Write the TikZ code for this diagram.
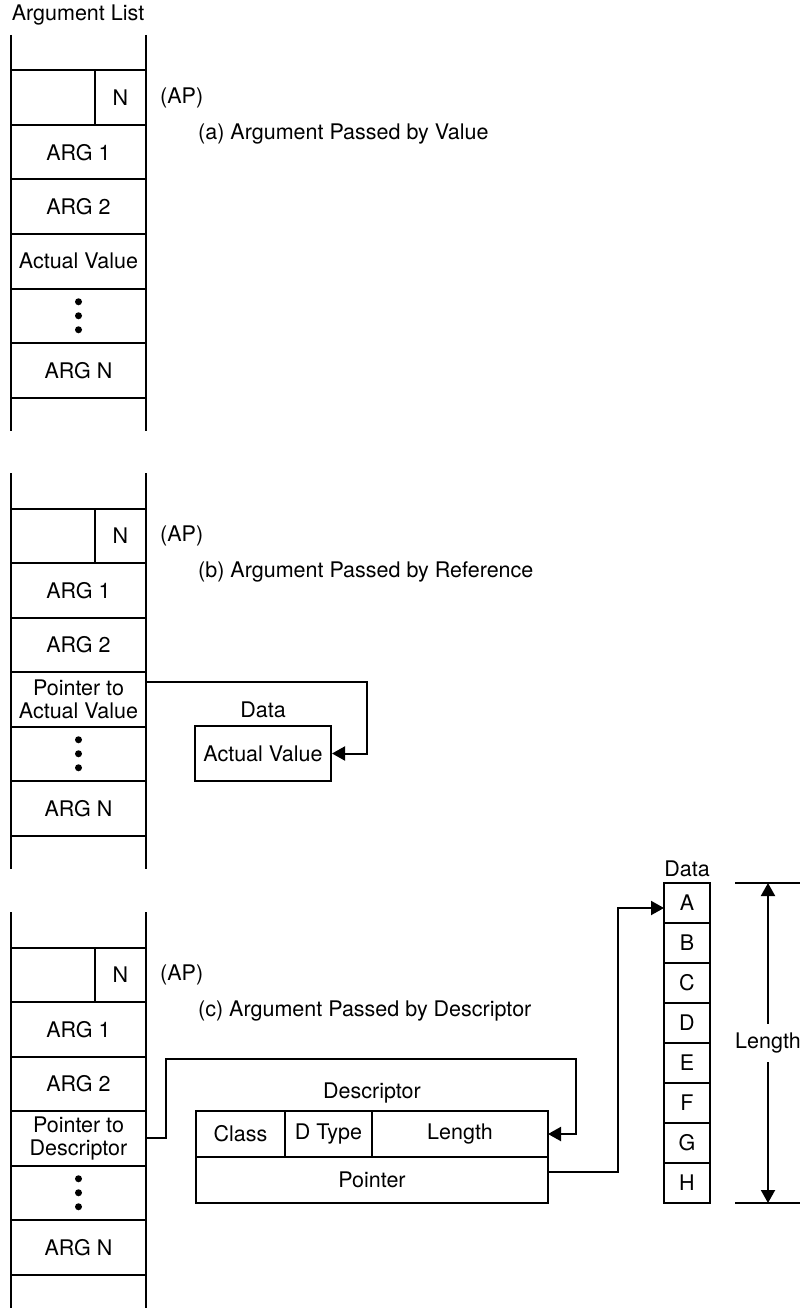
\documentclass[tikz,border=0pt]{standalone}
\usepackage{fontspec}
\setmainfont{TeX Gyre Heros}
\usetikzlibrary{arrows.meta,positioning}

\begin{document}
\begin{tikzpicture}[x=1pt,y=-1pt,
  every node/.style={font=\fontsize{21.5}{22.5}\selectfont},
  ln/.style={line width=2pt},
  cell/.style={draw,ln,outer sep=0pt,inner sep=0pt,minimum width=135pt,minimum height=54.5pt,align=center},
  dcell/.style={draw,ln,outer sep=0pt,inner sep=0pt,minimum height=46pt},
  datacell/.style={draw,ln,outer sep=0pt,inner sep=0pt,minimum width=46pt,minimum height=40pt},
  lbl/.style={inner sep=0pt},
  arr/.style={-{Triangle[length=13pt,width=14pt]},ln}]
\useasboundingbox (0,0) rectangle (802,1308);
\node (title) at (78,15) {Argument List};
% the three argument lists
\foreach \sx/\ty/\rowtxt/\captxt in {a/35/{Actual Value}/{(a) Argument Passed by Value},
    b/473/{Pointer to\\Actual Value}/{(b) Argument Passed by Reference},
    c/912/{Pointer to\\Descriptor}/{(c) Argument Passed by Descriptor}} {
  \draw[ln] (11,\ty) -- (11,{\ty+396}) (146,\ty) -- (146,{\ty+396});
  \node[cell,minimum width=84pt,anchor=north west] (e\sx) at (11,{\ty+35.5}) {};
  \node[cell,minimum width=51pt,right=0pt of e\sx] (n\sx) {N};
  \node[cell,anchor=north west] (r\sx1) at (e\sx.south west) {ARG 1};
  \node[cell,below=0pt of r\sx1] (r\sx2) {ARG 2};
  \node[cell,below=0pt of r\sx2] (r\sx3) {\rowtxt};
  \node[cell,below=0pt of r\sx3] (r\sx4) {};
  \node[cell,below=0pt of r\sx4] (r\sx5) {ARG N};
  \foreach \d in {-14,0,14} \fill (r\sx4.center) ++(0,\d) circle (3.5pt);
  \node[lbl,right=14pt of n\sx] (ap\sx) {(AP)};
  \node[lbl,anchor=west] (cap\sx) at (198,{\ty+99}) {\captxt};
}
% (b) data
\node[draw,ln,inner sep=0pt,minimum width=136pt,minimum height=55pt] (val) at (263,753.5) {Actual Value};
\node[lbl,above=7pt of val] (vallbl) {Data};
\draw[arr] ([yshift=17pt]rb3.east) -- ++(221,0) |- (val.east);
% (c) descriptor
\node[dcell,minimum width=89pt] (cls) at (240.5,1134) {Class};
\node[dcell,minimum width=87pt,right=0pt of cls] (dtype) {D Type};
\node[dcell,minimum width=176pt,right=0pt of dtype] (len) {Length};
\node[dcell,minimum width=352pt,anchor=north west] (ptr) at (cls.south west) {Pointer};
\node[lbl,above=8pt of dtype.north east] (desclbl) {Descriptor};
\draw[arr] (rc3.east) -- ++(20,0) -- ++(0,-79) -| ([xshift=28pt]len.east) -- (len.east);
% data array
\foreach \c [count=\i from 0] in {A,B,C,D,E,F,G,H}
  \node[datacell] (d\c) at (687,{903+40*\i}) {\c};
\node[lbl,above=6pt of dA] (datalbl) {Data};
\draw[arr] ([yshift=8pt]ptr.east) -- ++(70,0) |- ([yshift=-5pt]dA.west);
% length dimension
\coordinate (lt) at ([xshift=58pt]dA.north east);
\coordinate (lb) at ([xshift=58pt]dH.south east);
\draw[ln] ([xshift=-33pt]lt) -- ([xshift=32pt]lt) ([xshift=-33pt]lb) -- ([xshift=32pt]lb);
\node[inner sep=9pt] (lenlbl) at (lt |- dE.north) {Length};
\draw[arr] (lenlbl) -- (lt);
\draw[arr] (lenlbl) -- (lb);
\end{tikzpicture}
\end{document}
